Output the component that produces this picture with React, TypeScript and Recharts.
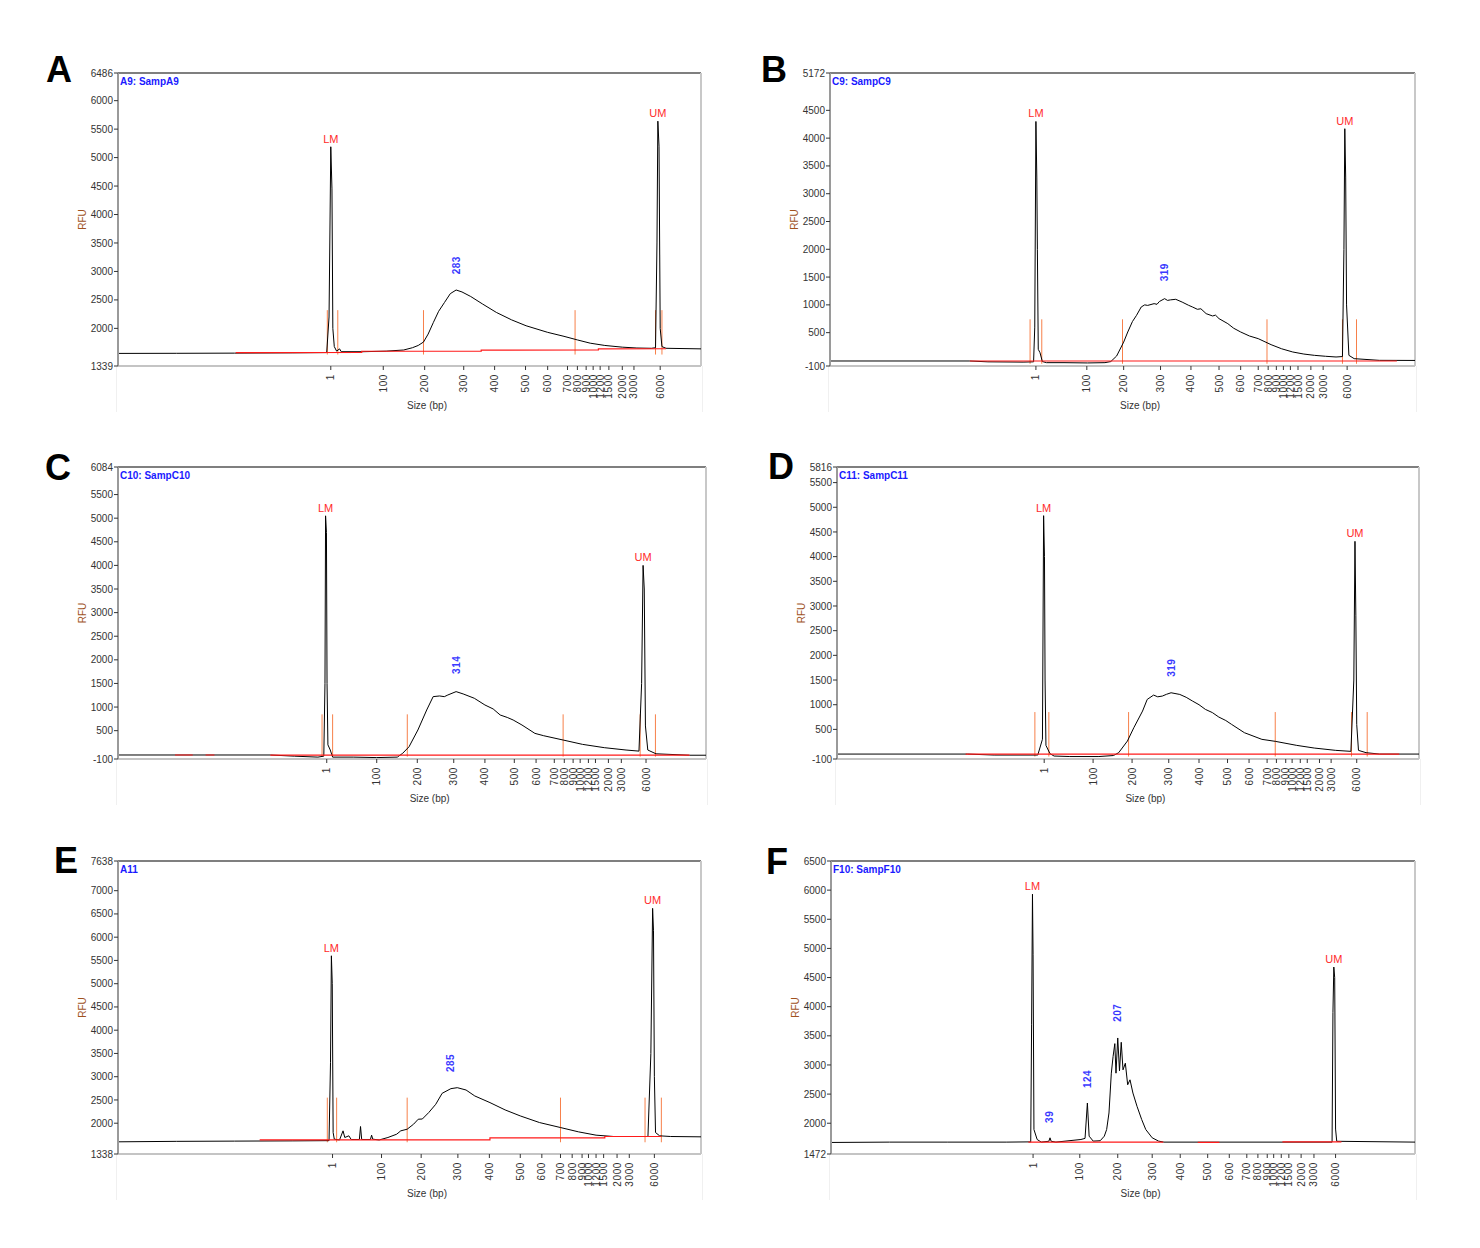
import React from "react";
import {
  Label,
  Line,
  LineChart,
  ReferenceDot,
  ReferenceLine,
  XAxis,
  YAxis,
} from "recharts";

// Fragment Analyzer electropherograms, six samples (A–F).
// x = migration position (0–100 across the run window), y = RFU.

type Pt = [number, number | null];

const SIZE_LABELS = ["1", "100", "200", "300", "400", "500", "600", "700", "800", "900", "1000", "1200", "1500", "2000", "3000", "6000"];

// ---------- A ----------
const ticksA = [36.5, 45.5, 52.6, 59.3, 64.6, 69.9, 73.7, 77.1, 78.8, 80.3, 81.5, 82.7, 84.2, 86.5, 88.5, 93.0];
const yTicksA = [1339, 2000, 2500, 3000, 3500, 4000, 4500, 5000, 5500, 6000, 6486];
const traceA: Pt[] = [
  [0, 1560], [10, 1562], [20, 1565], [30, 1570], [35.8, 1575], [36.2, 2200], [36.5, 5190], [36.7, 4450],
  [36.85, 2000], [37.1, 1680], [37.5, 1600], [38.0, 1640], [38.3, 1590], [42, 1590], [46, 1600], [49, 1620],
  [50.5, 1660], [51.5, 1700], [52.4, 1760], [53.2, 1900], [54.1, 2105], [55, 2300], [56, 2455], [57, 2610],
  [58, 2674], [59, 2640], [60.5, 2560], [62.5, 2430], [64.9, 2280], [67.5, 2150], [70, 2046], [73.7, 1930],
  [76.5, 1860], [78.8, 1797], [81, 1740], [83.5, 1700], [86.5, 1670], [89, 1655], [91.5, 1650], [92.2, 1660],
  [92.45, 3500], [92.6, 5640], [92.8, 5200], [93.0, 2000], [93.3, 1680], [94, 1650], [100, 1640],
];
const baselineA: Pt[] = [[20.2, 1575], [41.8, 1578], [41.8, 1598], [62.3, 1600], [62.3, 1618], [82.4, 1622], [82.4, 1640], [94, 1642]];
const markersA = [35.9, 37.7, 52.4, 78.4, 92.2, 93.3];
const markerRangeA: [number, number] = [1540, 2320];
const peaksA: [number, number, string][] = [[58.0, 2950, "283"]];
const lmA: [number, number] = [36.5, 5190];
const umA: [number, number] = [92.6, 5640];

// ---------- B ----------
const ticksB = [35.2, 43.9, 50.2, 56.5, 61.7, 66.5, 70.2, 73.2, 74.9, 76.3, 77.5, 78.7, 80.0, 82.2, 84.3, 88.4];
const yTicksB = [-100, 500, 1000, 1500, 2000, 2500, 3000, 3500, 4000, 4500, 5172];
const traceB: Pt[] = [
  [0, -10], [23.9, -10], [27, -25], [33, -30], [34.8, -25], [35.0, 600], [35.2, 4300], [35.35, 3300],
  [35.45, 2000], [35.6, 200], [35.9, 140], [36.3, -20], [37, -40], [40, -40], [44, -45], [47, -40], [48, -20],
  [49, 80], [50.2, 330], [50.9, 512], [51.7, 700], [52.4, 812], [53.2, 962], [53.8, 1000], [54.3, 990],
  [55.4, 1022], [55.9, 1010], [56.3, 1060], [57.2, 1112], [57.7, 1080], [58.2, 1090], [59.1, 1100], [60.2, 1050],
  [61.3, 992], [62.0, 960], [62.8, 920], [63.4, 930], [64.3, 842], [65.4, 800], [65.9, 815], [66.5, 752],
  [68, 662], [69, 580], [70.2, 512], [71.7, 440], [73.2, 392], [75.4, 284], [77.2, 210], [79.1, 152],
  [81, 115], [82.8, 92], [84.7, 75], [86.5, 62], [87.6, 70], [87.85, 2000], [88.0, 4170], [88.15, 3300],
  [88.3, 1000], [88.7, 92], [89.6, 32], [93.9, 2], [100, 0],
];
const baselineB: Pt[] = [[23.9, -10], [96.9, -10]];
const markersB = [34.2, 36.2, 50.0, 74.7, 87.6, 90.0];
const markerRangeB: [number, number] = [-60, 740];
const peaksB: [number, number, string][] = [[57.2, 1424, "319"]];
const lmB: [number, number] = [35.2, 4300];
const umB: [number, number] = [88.0, 4170];

// ---------- C ----------
const ticksC = [35.5, 44.0, 50.9, 57.1, 62.4, 67.4, 71.1, 74.2, 75.9, 77.4, 78.6, 80.0, 81.2, 83.4, 85.6, 89.8];
const yTicksC = [-100, 500, 1000, 1500, 2000, 2500, 3000, 3500, 4000, 4500, 5000, 5500, 6084];
const traceC: Pt[] = [
  [0, -15], [25.9, -15], [30, -40], [34, -60], [35.0, -40], [35.2, 1500], [35.3, 5050], [35.45, 4700],
  [35.55, 1500], [35.7, 200], [36.1, 90], [36.5, -60], [40, -60], [44, -70], [47.5, -60], [48.4, 19],
  [49.5, 160], [51, 514], [52.5, 938], [53.6, 1221], [54.7, 1235], [55.5, 1220], [56.1, 1256], [57.5, 1327],
  [58.7, 1278], [60.6, 1186], [62.4, 1044], [63.8, 960], [65.0, 832], [66.2, 780], [67.2, 726], [68.7, 620],
  [70.9, 443], [72.4, 393], [75.7, 302], [79.0, 210], [82.7, 140], [86.4, 90], [88.6, 67], [89.05, 1500],
  [89.3, 4000], [89.5, 3500], [89.7, 600], [90.1, 90], [91.5, 10], [97.2, -20], [100, -20],
];
const baselineC: Pt[] = [[9.7, -15], [12.7, -15], [13.8, null], [14.9, -15], [16.4, -15], [20, null], [25.9, -16], [97.2, -16]];
const markersC = [34.7, 36.5, 49.2, 75.7, 88.8, 91.4];
const markerRangeC: [number, number] = [-50, 846];
const peaksC: [number, number, string][] = [[57.5, 1702, "314"]];
const lmC: [number, number] = [35.3, 5050];
const umC: [number, number] = [89.3, 4000];

// ---------- D ----------
const ticksD = [35.6, 44.0, 50.7, 57.0, 62.2, 67.1, 70.8, 73.9, 75.5, 77.1, 78.2, 79.6, 80.8, 82.9, 84.9, 89.3];
const yTicksD = [-100, 500, 1000, 1500, 2000, 2500, 3000, 3500, 4000, 4500, 5000, 5500, 5816];
const traceD: Pt[] = [
  [0, 0], [22.4, 0], [27, -20], [34.5, -20], [35.3, 300], [35.5, 4830], [35.65, 4000], [35.75, 1500],
  [35.9, 176], [36.6, 7], [37.3, -40], [40, -50], [45, -50], [47.5, -30], [48.4, 28], [49.9, 264],
  [51.0, 534], [52.5, 871], [53.3, 1107], [54.4, 1195], [55.1, 1160], [55.9, 1175], [56.6, 1210], [57.4, 1242],
  [58.9, 1208], [60, 1150], [61.1, 1073], [62.2, 1000], [63.3, 905], [64.5, 840], [65.6, 750], [66.8, 680],
  [67.8, 601], [70.0, 433], [73.0, 298], [75.3, 258], [79.0, 176], [82.0, 122], [85.7, 75], [88.3, 55],
  [88.8, 1500], [89.0, 4310], [89.15, 2800], [89.3, 600], [89.6, 75], [90.9, 28], [93.2, 0], [100, 0],
];
const baselineD: Pt[] = [[22.1, 0], [96.6, 0]];
const markersD = [34.0, 36.4, 50.1, 75.3, 88.4, 91.1];
const markerRangeD: [number, number] = [-50, 851];
const peaksD: [number, number, string][] = [[57.5, 1566, "319"]];
const lmD: [number, number] = [35.5, 4830];
const umD: [number, number] = [89.0, 4310];

// ---------- E ----------
const ticksE = [36.8, 45.2, 52.0, 58.3, 63.7, 69.0, 72.7, 75.9, 77.9, 79.6, 80.7, 82.0, 83.3, 85.6, 87.7, 92.0];
const yTicksE = [1338, 2000, 2500, 3000, 3500, 4000, 4500, 5000, 5500, 6000, 6500, 7000, 7638];
const traceE: Pt[] = [
  [0, 1600], [10, 1610], [20, 1615], [30, 1620], [36.2, 1625], [36.45, 3300], [36.6, 5600], [36.75, 5000],
  [36.9, 1800], [37.1, 1657], [38.0, 1640], [38.6, 1836], [38.9, 1693], [39.6, 1729], [40, 1650], [41.4, 1650],
  [41.6, 1929], [41.8, 1650], [43.3, 1650], [43.5, 1743], [43.7, 1657], [44.8, 1640], [46.3, 1693], [47.8, 1764],
  [48.5, 1836], [49.6, 1871], [50.7, 1979], [51.5, 2086], [52.2, 2090], [53.3, 2229], [54.5, 2407], [55.6, 2643],
  [57.1, 2743], [58.2, 2764], [59.7, 2714], [61.2, 2586], [63.8, 2443], [66.4, 2286], [69.0, 2157], [72.3, 2014],
  [75.9, 1907], [79.0, 1814], [82.0, 1743], [85.0, 1714], [90.9, 1714], [91.4, 3500], [91.7, 6620], [91.85, 6150],
  [92.0, 3000], [92.2, 1800], [92.9, 1729], [94.8, 1714], [100, 1707],
];
const baselineE: Pt[] = [[24.3, 1643], [63.8, 1643], [63.8, 1686], [83.5, 1686], [83.5, 1714], [93.2, 1714]];
const markersE = [35.9, 37.5, 49.6, 75.9, 90.4, 93.2];
const markerRangeE: [number, number] = [1590, 2550];
const peaksE: [number, number, string][] = [[57.1, 3100, "285"]];
const lmE: [number, number] = [36.6, 5600];
const umE: [number, number] = [91.7, 6620];

// ---------- F ----------
const ticksF = [34.6, 42.6, 49.1, 55.0, 59.8, 64.5, 68.2, 71.2, 73.1, 74.7, 75.8, 77.1, 78.4, 80.5, 82.7, 86.4];
const yTicksF = [1472, 2000, 2500, 3000, 3500, 4000, 4500, 5000, 5500, 6000, 6500];
const traceF: Pt[] = [
  [0, 1670], [10, 1676], [20, 1676], [30, 1676], [34.2, 1680], [34.35, 3700], [34.5, 5930], [34.6, 4900],
  [34.75, 1892], [35.3, 1721], [36, 1676], [37.3, 1690], [37.5, 1750], [37.7, 1690], [38.5, 1676], [42.8, 1721],
  [43.5, 1740], [43.9, 2347], [44.2, 1778], [44.9, 1693], [46.1, 1700], [46.8, 1778], [47.2, 1892], [47.6, 2176],
  [48.0, 2859], [48.3, 3144], [48.6, 3366], [48.8, 2859], [49.1, 3463], [49.4, 2900], [49.7, 3389], [50.0, 2916],
  [50.4, 3030], [50.8, 2660], [51.2, 2745], [51.7, 2518], [52.4, 2290], [53.2, 2063], [53.9, 1892], [55.0, 1750],
  [56.1, 1693], [57, 1676], [85.8, 1676], [85.95, 3900], [86.1, 4680], [86.25, 4500], [86.4, 1900], [86.6, 1690],
  [100, 1676],
];
const baselineF: Pt[] = [[33.8, 1676], [56.9, 1676], [60, null], [62.8, 1670], [66.5, 1670], [70, null], [77.3, 1680], [87.4, 1680]];
const markersF: number[] = [];
const markerRangeF: [number, number] = [1676, 1676];
const peaksF: [number, number, string][] = [[37.5, 2006, "39"], [43.9, 2603, "124"], [49.1, 3741, "207"]];
const lmF: [number, number] = [34.5, 5930];
const umF: [number, number] = [86.1, 4680];

const FONT = '"Liberation Sans", Arial, sans-serif';
const YW = 44;
const XH = 46;
const TOP = 10;

interface PanelProps {
  letter: string;
  sample: string;
  box: { l: number; r: number; t: number; b: number };
  letterAt: { x: number; y: number };
  xTicks: number[];
  yTicks: number[];
  trace: Pt[];
  baseline: Pt[];
  markers: number[];
  markerRange: [number, number];
  peaks: [number, number, string][];
  lm: [number, number];
  um: [number, number];
}

const rows = (pts: Pt[]) => pts.map(([t, v]) => ({ t, v }));

function Electropherogram(p: PanelProps) {
  const { box, xTicks, yTicks } = p;
  const plotW = box.r - box.l;
  const plotH = box.b - box.t;
  const yMin = yTicks[0];
  const yMax = yTicks[yTicks.length - 1];

  const SizeTick = (props: any) => {
    const { x, y, payload } = props;
    const i = xTicks.indexOf(payload.value);
    const ty = y + 2;
    return (
      <text
        x={x}
        y={ty}
        dy="0.35em"
        transform={`rotate(-90 ${x} ${ty})`}
        textAnchor="end"
        fontSize={10}
        fill="#333"
        style={{ letterSpacing: 0.6 }}
      >
        {SIZE_LABELS[i]}
      </text>
    );
  };

  return (
    <>
      <div
        style={{
          position: "absolute",
          left: p.letterAt.x,
          top: p.letterAt.y - 33,
          fontSize: 36,
          fontWeight: 700,
          lineHeight: "36px",
          color: "#000",
        }}
      >
        {p.letter}
      </div>
      <div
        style={{
          position: "absolute",
          left: box.l - 2,
          top: box.b,
          width: plotW + 2,
          height: XH,
          borderLeft: "1px solid #f0f0f0",
          borderRight: "1px solid #f0f0f0",
        }}
      />
      <div style={{ position: "absolute", left: box.l - YW, top: box.t - TOP }}>
        <LineChart
          width={YW + plotW + 2}
          height={TOP + plotH + XH}
          margin={{ top: TOP, right: 2, left: 0, bottom: 0 }}
        >
          <XAxis
            type="number"
            dataKey="t"
            domain={[0, 100]}
            ticks={xTicks}
            interval={0}
            height={XH}
            axisLine={{ stroke: "#c4c4c4", strokeWidth: 2 }}
            tickLine={{ stroke: "#333" }}
            tickSize={4}
            tick={SizeTick}
          >
            <Label
              content={(lp: any) => {
                const vb = lp.viewBox;
                return (
                  <text x={vb.x + vb.width * 0.53} y={vb.y + 43} textAnchor="middle" fontSize={10} fill="#333">
                    Size (bp)
                  </text>
                );
              }}
            />
          </XAxis>
          <YAxis
            type="number"
            domain={[yMin, yMax]}
            ticks={yTicks}
            interval={0}
            width={YW}
            axisLine={{ stroke: "#9a9a9a", strokeWidth: 2 }}
            tickLine={{ stroke: "#333" }}
            tickSize={4}
            tickMargin={1}
            tick={{ fontSize: 10, fill: "#333" }}
          >
            <Label
              content={(lp: any) => {
                const vb = lp.viewBox;
                const cx = vb.x + 8;
                const cy = vb.y + vb.height / 2;
                return (
                  <text
                    x={cx}
                    y={cy}
                    dy="0.35em"
                    transform={`rotate(-90 ${cx} ${cy})`}
                    textAnchor="middle"
                    fontSize={10}
                    fill="#a0521e"
                  >
                    RFU
                  </text>
                );
              }}
            />
          </YAxis>

          <ReferenceLine y={yMax} stroke="#555" strokeWidth={1.5} />
          <ReferenceLine x={100} stroke="#c8c8c8" strokeWidth={2} />

          {p.markers.map((m) => (
            <ReferenceLine
              key={`m${m}`}
              segment={[
                { x: m, y: p.markerRange[0] },
                { x: m, y: p.markerRange[1] },
              ]}
              stroke="#f7804a"
              strokeWidth={1}
            />
          ))}

          <Line
            data={rows(p.trace)}
            dataKey="v"
            type="linear"
            stroke="#000"
            strokeWidth={1}
            dot={false}
            isAnimationActive={false}
          />
          <Line
            data={rows(p.baseline)}
            dataKey="v"
            type="linear"
            stroke="#ff1a1a"
            strokeWidth={1.2}
            dot={false}
            connectNulls={false}
            isAnimationActive={false}
          />

          <ReferenceDot
            x={0}
            y={yMax}
            r={0}
            shape={(sp: any) => (
              <text x={sp.cx + 2} y={sp.cy + 12} fontSize={10} fontWeight={700} fill="#1a1aff">
                {p.sample}
              </text>
            )}
          />
          {[["LM", p.lm], ["UM", p.um]].map(([name, pk]: any) => (
            <ReferenceDot
              key={name}
              x={pk[0]}
              y={pk[1]}
              r={0}
              shape={(sp: any) => (
                <text x={sp.cx} y={sp.cy - 4} textAnchor="middle" fontSize={11} fill="#ff2b2b">
                  {name}
                </text>
              )}
            />
          ))}
          {p.peaks.map(([t, v, txt]) => (
            <ReferenceDot
              key={`pk${txt}`}
              x={t}
              y={v}
              r={0}
              shape={(sp: any) => (
                <text
                  x={sp.cx}
                  y={sp.cy}
                  dy="0.35em"
                  transform={`rotate(-90 ${sp.cx} ${sp.cy})`}
                  textAnchor="start"
                  fontSize={10}
                  fontWeight={700}
                  fill="#3a3aff"
                  style={{ letterSpacing: 0.5 }}
                >
                  {txt}
                </text>
              )}
            />
          ))}
        </LineChart>
      </div>
    </>
  );
}

export default function App() {
  return (
    <div style={{ position: "relative", width: 1480, height: 1248, background: "#fff", fontFamily: FONT }}>
      <style>{"body{margin:0;background:#fff}"}</style>
      <Electropherogram
        letter="A" sample="A9: SampA9" box={{ l: 118, r: 701, t: 73, b: 366 }} letterAt={{ x: 46, y: 85 }}
        xTicks={ticksA} yTicks={yTicksA} trace={traceA} baseline={baselineA}
        markers={markersA} markerRange={markerRangeA} peaks={peaksA} lm={lmA} um={umA}
      />
      <Electropherogram
        letter="B" sample="C9: SampC9" box={{ l: 830, r: 1415, t: 73, b: 366 }} letterAt={{ x: 761, y: 85 }}
        xTicks={ticksB} yTicks={yTicksB} trace={traceB} baseline={baselineB}
        markers={markersB} markerRange={markerRangeB} peaks={peaksB} lm={lmB} um={umB}
      />
      <Electropherogram
        letter="C" sample="C10: SampC10" box={{ l: 118, r: 706, t: 467, b: 759 }} letterAt={{ x: 45, y: 483 }}
        xTicks={ticksC} yTicks={yTicksC} trace={traceC} baseline={baselineC}
        markers={markersC} markerRange={markerRangeC} peaks={peaksC} lm={lmC} um={umC}
      />
      <Electropherogram
        letter="D" sample="C11: SampC11" box={{ l: 837, r: 1419, t: 467, b: 759 }} letterAt={{ x: 768, y: 482 }}
        xTicks={ticksD} yTicks={yTicksD} trace={traceD} baseline={baselineD}
        markers={markersD} markerRange={markerRangeD} peaks={peaksD} lm={lmD} um={umD}
      />
      <Electropherogram
        letter="E" sample="A11" box={{ l: 118, r: 701, t: 861, b: 1154 }} letterAt={{ x: 54, y: 876 }}
        xTicks={ticksE} yTicks={yTicksE} trace={traceE} baseline={baselineE}
        markers={markersE} markerRange={markerRangeE} peaks={peaksE} lm={lmE} um={umE}
      />
      <Electropherogram
        letter="F" sample="F10: SampF10" box={{ l: 831, r: 1415, t: 861, b: 1154 }} letterAt={{ x: 766, y: 877 }}
        xTicks={ticksF} yTicks={yTicksF} trace={traceF} baseline={baselineF}
        markers={markersF} markerRange={markerRangeF} peaks={peaksF} lm={lmF} um={umF}
      />
    </div>
  );
}
